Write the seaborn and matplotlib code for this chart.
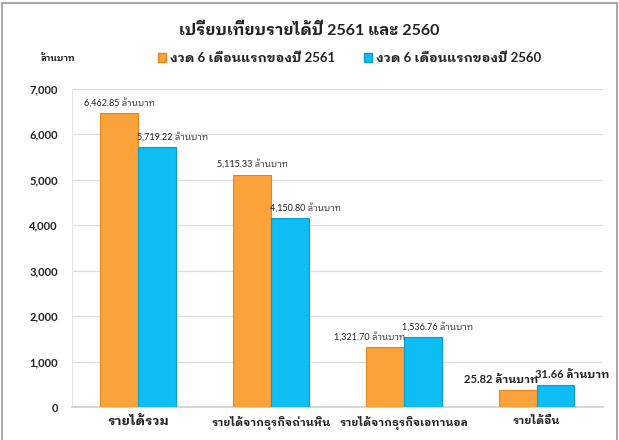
import matplotlib
matplotlib.use("Agg")
import matplotlib.pyplot as plt
import matplotlib.patches as mpatches
import pandas as pd
import seaborn as sns

# datos
categorias = ["รายได้รวม", "รายได้จากธุรกิจถ่านหิน", "รายได้จากธุรกิจเอทานอล", "รายได้อื่น"]
series = ["งวด 6 เดือนแรกของปี 2561", "งวด 6 เดือนแรกของปี 2560"]
valores_2561 = [6462.85, 5115.33, 1321.70, 375]
valores_2560 = [5719.22, 4150.80, 1536.76, 485]
etiquetas_2561 = ["6,462.85", "5,115.33", "1,321.70", "25.82"]
etiquetas_2560 = ["5,719.22", "4,150.80", "1,536.76", "31.66"]
unidad = "ล้านบาท"
titulo = "เปรียบเทียบรายได้ปี 2561 และ 2560"

colores = {series[0]: "#FBA23A", series[1]: "#0DBDF3"}
bordes = ["#E0871E", "#0A9CCB"]

df = pd.DataFrame({
    "categoria": categorias * 2,
    "serie": [series[0]] * 4 + [series[1]] * 4,
    "valor": valores_2561 + valores_2560,
})

sns.set_style("white")
plt.rcParams["font.family"] = ["Lato", "IBM Plex Sans Thai Looped", "DejaVu Sans"]

fig = plt.figure(figsize=(6.19, 4.4), dpi=100)
ax = fig.add_axes([0.116, 0.075, 0.858, 0.723])

sns.barplot(data=df, x="categoria", y="valor", hue="serie", hue_order=series,
            palette=colores, width=0.57, ax=ax, legend=False, saturation=1)

for i, cont in enumerate(ax.containers):
    for b in cont:
        b.set_edgecolor(bordes[i])
        b.set_linewidth(0.8)
        b.set_zorder(3)

ax.set_ylim(0, 7000)
ax.set_xlim(-0.5, 3.5)
ax.set_yticks(range(0, 7001, 1000))
ax.set_yticklabels([f"{v:,}" for v in range(0, 7001, 1000)], fontsize=8,
                   fontweight="bold", color="#222222")
ax.yaxis.grid(True, color="#DDDDDD", linewidth=0.9, zorder=0)
ax.set_axisbelow(True)
ax.set_xlabel("")
ax.set_ylabel("")
ax.tick_params(axis="y", length=0, pad=10)
ax.tick_params(axis="x", length=0, pad=6)
ax.set_xticks(range(4))
ax.set_xticklabels(categorias, fontweight="bold", color="#222222")
for j, t in enumerate(ax.get_xticklabels()):
    t.set_fontsize(9.5 if j == 0 else 8)

for s in ["top", "right"]:
    ax.spines[s].set_visible(False)
ax.spines["left"].set_color("#E6E6E6")
ax.spines["bottom"].set_color("#D0D0D0")
ax.spines["bottom"].set_linewidth(1.2)

# etiquetas de las barras
alin_2561 = ["center", "center", "right", "right"]
alin_2560 = ["left", "left", "left", "left"]
for i, cont in enumerate(ax.containers):
    textos = etiquetas_2561 if i == 0 else etiquetas_2560
    alin = alin_2561 if i == 0 else alin_2560
    for j, b in enumerate(cont):
        h = b.get_height()
        if alin[j] == "center":
            x = b.get_x() + b.get_width() / 2
        elif alin[j] == "right":
            x = b.get_x() + b.get_width() + 0.01
        else:
            x = b.get_x() - 0.01
        tam = 8 if j == 3 else 6.5
        ax.text(x, h + 120, f"{textos[j]} {unidad}", ha=alin[j], va="bottom",
                fontsize=tam, fontweight="bold" if j == 3 else "normal",
                color="#222222", zorder=5)

fig.text(0.5, 0.93, titulo, ha="center", va="center", fontsize=11.5,
         fontweight="bold", color="#222222")
fig.text(0.065, 0.868, unidad, ha="left", va="center", fontsize=6.5,
         fontweight="bold", color="#222222")

handles = [mpatches.Patch(facecolor=colores[s], edgecolor=bordes[k], label=s)
           for k, s in enumerate(series)]
fig.legend(handles=handles, loc="center", bbox_to_anchor=(0.565, 0.868), ncol=2,
           frameon=False, prop={"weight": "bold", "size": 9.5},
           handlelength=0.6, handleheight=0.6, handletextpad=0.3, columnspacing=2.2)

fig.patches.append(mpatches.Rectangle((0.003, -0.01), 0.994, 1.003, transform=fig.transFigure,
                                      fill=False, edgecolor="#9A9A9A", linewidth=1.2))

fig.savefig("out.png", dpi=100)
